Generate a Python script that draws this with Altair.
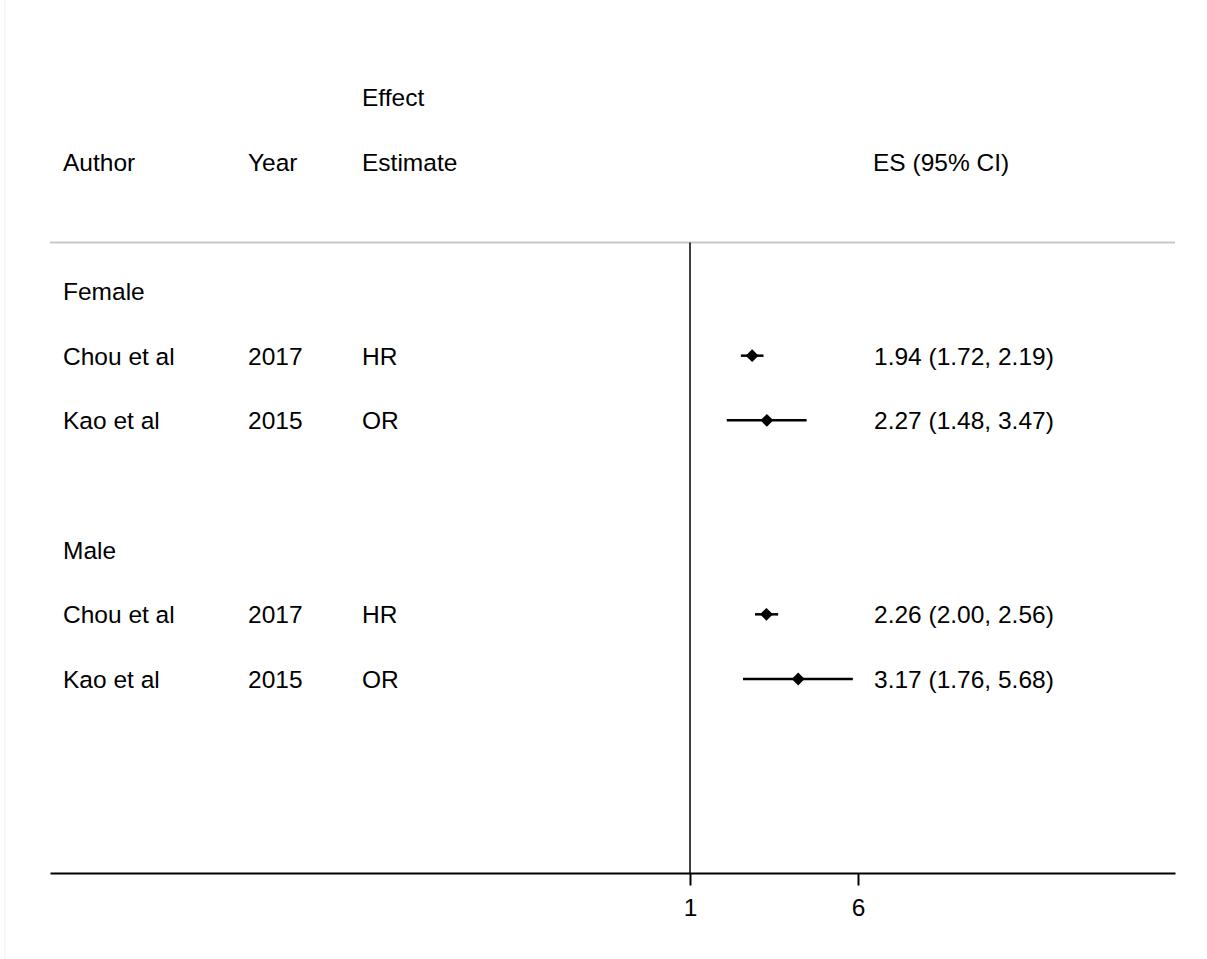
import altair as alt
import pandas as pd

# ---- data ----
authors = ["Chou et al", "Kao et al", "Chou et al", "Kao et al"]
years = ["2017", "2015", "2017", "2015"]
estimates = ["HR", "OR", "HR", "OR"]
es = [1.94, 2.27, 2.26, 3.17]
lo = [1.72, 1.48, 2.00, 1.76]
hi = [2.19, 3.47, 2.56, 5.68]
study_rows = [1, 2, 5, 6]

groups = ["Female", "Male"]
group_rows = [0, 4]

header_top = ["Effect"]
header_labels = ["Author", "Year", "Estimate", "ES (95% CI)"]
x_ticks = [1, 6]

FONT = "Liberation Sans"
FS = 24.5
INK = "#000000"

studies = pd.DataFrame({
    "author": authors, "year": years, "est": estimates,
    "es": es, "lo": lo, "hi": hi, "row": study_rows,
})
studies["label"] = [f"{e:.2f} ({l:.2f}, {h:.2f})" for e, l, h in zip(es, lo, hi)]
grp = pd.DataFrame({"name": groups, "row": group_rows})

xs = alt.Scale(type="log", domain=[0.001085, 176.4], nice=False)
ys = alt.Scale(domain=[-4.5, 9], reverse=True, nice=False, zero=False)
X_AX = alt.Axis(values=x_ticks, format="d", title=None, grid=False,
                tickSize=12, tickWidth=2, tickColor="black",
                domainColor="black", domainWidth=2,
                labelFont=FONT, labelFontSize=FS, labelColor=INK,
                labelPadding=11)
Y = lambda f: alt.Y(f, type="quantitative", scale=ys, axis=None)

base = alt.Chart(studies)

# axis carrier + CI lines
ci = base.mark_rule(color="black", strokeWidth=2.5).encode(
    x=alt.X("lo:Q", scale=xs, axis=X_AX),
    x2="hi:Q",
    y=Y("row"),
)
pts = base.mark_point(shape="diamond", filled=True, color="black", size=165, opacity=1).encode(
    x=alt.X("es:Q", scale=xs),
    y=Y("row"),
)

# null line at 1
null_df = pd.DataFrame({"x": [1], "y": [-0.75], "y2": [9]})
null_line = alt.Chart(null_df).mark_rule(color="black", strokeWidth=1.5).encode(
    x=alt.X("x:Q", scale=xs), y=Y("y"), y2="y2:Q"
)

# gray separator
sep_df = pd.DataFrame({"y": [-0.75]})
sep = alt.Chart(sep_df).mark_rule(color="#c8c8c8", strokeWidth=2).encode(
    y=Y("y"), x=alt.value(0), x2=alt.value(1125)
)

# faint left border
border = alt.Chart(sep_df).mark_rule(color="#f0f0f0", strokeWidth=1).encode(
    x=alt.value(-45), y=alt.value(0), y2=alt.value(959)
)

def txt(df, field, xpx):
    return alt.Chart(df).mark_text(
        align="left", baseline="middle", font=FONT, fontSize=FS, color=INK, dy=2
    ).encode(x=alt.value(xpx), y=Y("row"), text=f"{field}:N")

t_author = txt(studies, "author", 13)
t_year = txt(studies, "year", 198)
t_est = txt(studies, "est", 312)
t_es = txt(studies, "label", 824)
t_grp = txt(grp, "name", 13)

hdr = pd.DataFrame({"name": header_labels, "row": [-2] * 4})
hdr_layers = [txt(hdr[hdr["name"] == n], "name", p) for n, p in zip(header_labels, [13, 198, 312, 823])]
top_df = pd.DataFrame({"name": header_top, "row": [-3]})
t_top = txt(top_df, "name", 312)

chart = alt.layer(
    border, sep, null_line, ci, pts,
    t_author, t_year, t_est, t_es, t_grp, t_top, *hdr_layers,
).properties(
    width=1125, height=873,
    autosize=alt.AutoSizeParams(type="none"),
    padding={"left": 50, "top": 0, "right": 32, "bottom": 86},
    background="white",
).configure_view(stroke=None)

chart.save("out.html", embed_options={"renderer": "svg", "actions": False})
